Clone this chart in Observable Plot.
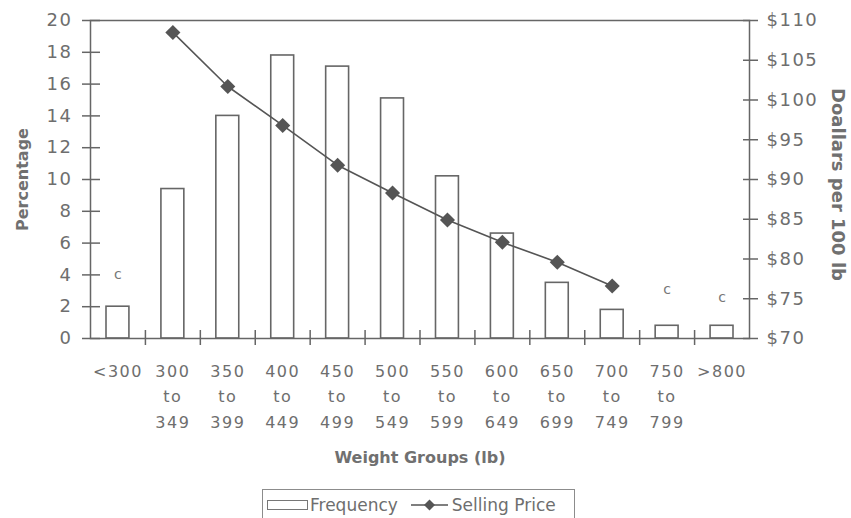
<!DOCTYPE html>
<html>
<head>
<meta charset="utf-8">
<script src="https://cdn.jsdelivr.net/npm/d3@7"></script>
<script src="https://cdn.jsdelivr.net/npm/@observablehq/plot@0.6"></script>
<style>
  body { margin: 0; background: #fff; font-family: "DejaVu Sans", sans-serif; }
  #chart svg { display: block; }
  #chart g[aria-label$="tick label"] text { letter-spacing: 1.5px; }
  .legend {
    margin: 5px 0 0 262px; width: 313px; height: 40px; box-sizing: border-box;
    border: 1.5px solid #8c8c8c; display: flex; align-items: flex-start;
    padding-top: 5px; color: #6e6e6e; font-size: 17px; line-height: 20px;
  }
  .legend .bar { width: 41px; height: 10px; box-sizing: border-box; border: 1.5px solid #777; margin: 5px 2px 0 4px; }
  .legend svg { margin: 4px 4px 0 13px; }
</style>
</head>
<body>
<div id="chart"></div>
<div class="legend">
  <span class="bar"></span><span>Frequency</span>
  <svg width="37" height="12"><line x1="0" y1="6" x2="37" y2="6" stroke="#555" stroke-width="1.5"/><path d="M18.5 0.5 L24 6 L18.5 11.5 L13 6 Z" fill="#555"/></svg><span>Selling Price</span>
</div>
<script>
// Weight groups (lb) along the bottom
const weightGroups = ["<300", "300\nto\n349", "350\nto\n399", "400\nto\n449", "450\nto\n499", "500\nto\n549",
  "550\nto\n599", "600\nto\n649", "650\nto\n699", "700\nto\n749", "750\nto\n799", ">800"];
// Share of animals in each weight group (%)
const frequencyPct = [2.0, 9.4, 14.0, 17.8, 17.1, 15.1, 10.2, 6.6, 3.5, 1.8, 0.8, 0.8];
// Average selling price, dollars per 100 lb (null where not reported)
const sellingPrice = [null, 108.5, 101.7, 96.8, 91.8, 88.3, 84.9, 82.1, 79.6, 76.6, null, null];
// Footnote markers "c" (groups with withheld prices) and their heights on the % axis
const noteGroups = ["<300", "750\nto\n799", ">800"];
const noteLevels = [4.0, 3.1, 2.6];
// Axis ticks
const pctTicks = [0, 2, 4, 6, 8, 10, 12, 14, 16, 18, 20];
const priceTicks = [70, 75, 80, 85, 90, 95, 100, 105, 110];

// The price axis on the right shares the vertical scale with the percentage axis
const priceToPct = d3.scaleLinear([70, 110], [0, 20]);

const rows = weightGroups.map((g, i) => ({i, g, pct: frequencyPct[i], price: sellingPrice[i]}));
const priced = rows.filter(d => d.price != null);
const notes = noteGroups.map((g, k) => ({i: weightGroups.indexOf(g), level: noteLevels[k]}));

const ink = "#666";
const textInk = "#6e6e6e";

const chart = Plot.plot({
  width: 851,
  height: 484,
  marginLeft: 90,
  marginRight: 102,
  marginTop: 20,
  marginBottom: 146,
  style: {fontFamily: "DejaVu Sans, sans-serif", color: textInk, background: "white", overflow: "visible"},
  x: {domain: [0, weightGroups.length], axis: null},
  y: {domain: [0, 20], axis: null},
  marks: [
    Plot.rectY(rows, {x1: d => d.i, x2: d => d.i + 1, y: "pct", insetLeft: 16, insetRight: 16,
      fill: "white", stroke: ink, strokeWidth: 1.6}),
    Plot.frame({stroke: ink, strokeWidth: 1.5}),
    Plot.line(priced, {x: d => d.i + 0.5, y: d => priceToPct(d.price), stroke: "#555", strokeWidth: 1.6}),
    Plot.dot(priced, {x: d => d.i + 0.5, y: d => priceToPct(d.price), symbol: "diamond2", r: 6.8,
      fill: "#555", stroke: "none"}),
    Plot.text(notes, {x: d => d.i + 0.5, y: "level", text: () => "c", fontSize: 14, fill: "#777"}),
    // left axis: ticks crossing the axis line, then labels
    Plot.axisY(pctTicks, {anchor: "left", tickSize: 18, dx: 10, fill: "none", stroke: ink, strokeWidth: 1.5}),
    Plot.axisY(pctTicks, {anchor: "left", tickSize: 0, tickPadding: 18, fontSize: 18, label: null}),
    // right axis in dollars
    Plot.axisY(priceTicks.map(priceToPct), {anchor: "right", tickSize: 15, dx: -7, fill: "none", stroke: ink, strokeWidth: 1.5}),
    Plot.axisY(priceTicks.map(priceToPct), {anchor: "right", tickSize: 0, tickPadding: 17, fontSize: 18, label: null,
      tickFormat: v => "$" + Math.round(priceToPct.invert(v))}),
    // bottom axis: ticks between groups, labels under each group
    Plot.axisX(d3.range(1, weightGroups.length), {anchor: "bottom", tickSize: 15, dy: -8, fill: "none", stroke: ink, strokeWidth: 1.5}),
    Plot.axisX(rows.map(d => d.i + 0.5), {anchor: "bottom", tickSize: 0, tickPadding: 20, fontSize: 16, lineHeight: 1.6,
      label: null, tickFormat: v => weightGroups[Math.floor(v)]}),
    // axis titles
    Plot.text(["Percentage"], {text: d => d, frameAnchor: "left", textAnchor: "middle", dx: -68, rotate: -90,
      fontSize: 16, fontWeight: "bold", fill: "#707070"}),
    Plot.text(["Doallars per 100 lb"], {text: d => d, frameAnchor: "right", textAnchor: "middle", dx: 88, dy: 5, rotate: 90,
      fontSize: 18, fontWeight: "bold", fill: "#707070"}),
    Plot.text(["Weight Groups (lb)"], {text: d => d, frameAnchor: "bottom", dy: 124,
      fontSize: 16, fontWeight: "bold", fill: "#707070"})
  ]
});
document.getElementById("chart").append(chart);
</script>
</body>
</html>
